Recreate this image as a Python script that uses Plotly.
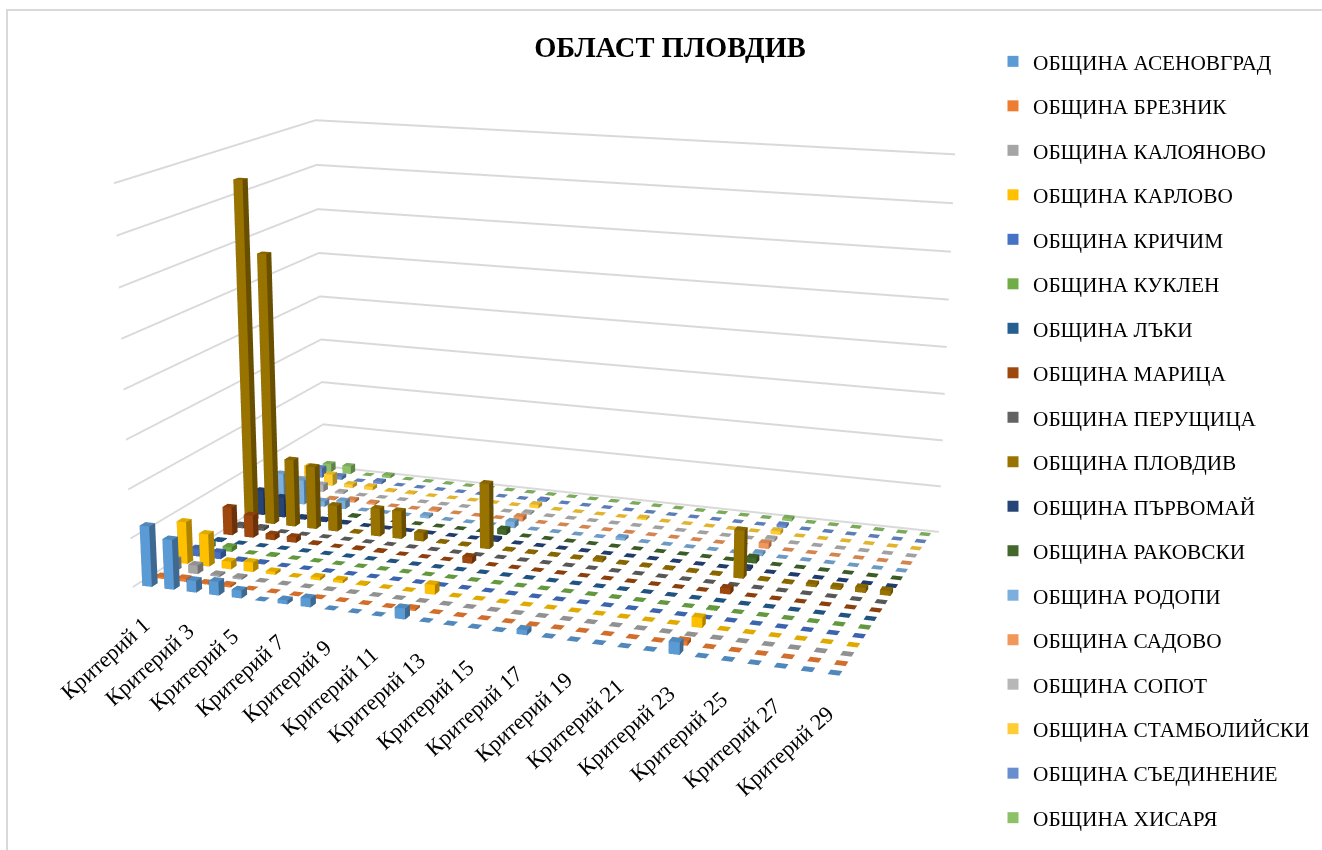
import plotly.graph_objects as go

criteria = [f"Критерий {n}" for n in range(1, 30)]
municipalities = ["ОБЩИНА АСЕНОВГРАД", "ОБЩИНА БРЕЗНИК", "ОБЩИНА КАЛОЯНОВО", "ОБЩИНА КАРЛОВО",
                  "ОБЩИНА КРИЧИМ", "ОБЩИНА КУКЛЕН", "ОБЩИНА ЛЪКИ", "ОБЩИНА МАРИЦА", "ОБЩИНА ПЕРУЩИЦА",
                  "ОБЩИНА ПЛОВДИВ", "ОБЩИНА ПЪРВОМАЙ", "ОБЩИНА РАКОВСКИ", "ОБЩИНА РОДОПИ", "ОБЩИНА САДОВО",
                  "ОБЩИНА СОПОТ", "ОБЩИНА СТАМБОЛИЙСКИ", "ОБЩИНА СЪЕДИНЕНИЕ", "ОБЩИНА ХИСАРЯ"]
colors = ["#5B9BD5", "#ED7D31", "#A5A5A5", "#FFC000", "#4472C4", "#70AD47", "#255E91", "#9E480E", "#636363",
          "#997300", "#264478", "#43682B", "#7CAFDD", "#F1975A", "#B7B7B7", "#FFCD33", "#698ED0", "#8CC168"]

asenovgrad =    [62, 51, 12, 14, 8, 0, 4, 9, 0, 0, 0, 11, 0, 0, 0, 0, 5, 0, 0, 0, 0, 0, 12, 0, 0, 0, 0, 0, 0]
breznik =       [2, 3, 1, 2, 0, 0, 0, 0, 0, 0, 0, 2, 0, 0, 0, 0, 0, 0, 0, 0, 0, 0, 4, 0, 0, 0, 0, 0, 0]
kaloyanovo =    [12, 9, 2, 2, 0, 0, 0, 0, 0, 0, 0, 0, 0, 0, 0, 0, 0, 0, 0, 0, 0, 0, 0, 0, 0, 0, 0, 0, 0]
karlovo =       [44, 34, 8, 10, 3, 0, 3, 3, 1, 0, 0, 10, 0, 0, 0, 0, 0, 0, 0, 0, 0, 0, 10, 0, 0, 0, 0, 0, 0]
krichim =       [8, 7, 1, 1, 0, 0, 0, 0, 0, 0, 0, 0, 0, 0, 0, 0, 0, 0, 0, 0, 0, 0, 0, 0, 0, 0, 0, 0, 0]
kuklen =        [5, 5, 0, 1, 0, 0, 0, 0, 0, 0, 0, 0, 0, 0, 0, 0, 0, 0, 0, 0, 0, 0, 1, 0, 0, 0, 0, 0, 0]
laki =          [1, 0, 0, 0, 0, 0, 0, 0, 0, 0, 0, 0, 0, 0, 0, 0, 0, 0, 0, 0, 0, 0, 0, 0, 0, 0, 0, 0, 0]
maritsa =       [30, 24, 6, 6, 1, 0, 1, 1, 0, 0, 0, 7, 0, 0, 0, 0, 0, 0, 0, 0, 0, 0, 6, 0, 0, 0, 0, 0, 0]
perushtitsa =   [3, 3, 0, 0, 0, 0, 0, 0, 0, 0, 0, 0, 0, 0, 0, 0, 0, 0, 0, 0, 0, 0, 0, 0, 0, 0, 0, 0, 0]
plovdiv =       [368, 292, 73, 68, 28, 1, 30, 30, 9, 1, 1, 70, 1, 1, 1, 1, 3, 1, 1, 1, 1, 1, 50, 1, 1, 3, 3, 5, 5]
parvomay =      [27, 22, 2, 2, 1, 0, 0, 0, 0, 0, 0, 3, 0, 0, 0, 0, 0, 0, 0, 0, 0, 0, 3, 0, 0, 0, 0, 0, 0]
rakovski =      [0, 0, 0, 0, 1, 0, 0, 0, 0, 0, 0, 6, 0, 0, 0, 0, 0, 0, 0, 0, 0, 0, 6, 0, 0, 0, 0, 0, 0]
rodopi =        [32, 27, 6, 9, 0, 0, 0, 3, 0, 0, 0, 7, 0, 0, 0, 0, 3, 0, 0, 0, 0, 0, 3, 0, 0, 0, 0, 0, 0]
sadovo =        [0, 0, 1, 3, 2, 0, 0, 2, 0, 0, 0, 5, 0, 0, 0, 0, 0, 0, 0, 0, 0, 0, 6, 0, 0, 0, 0, 0, 0]
sopot =         [12, 8, 2, 0, 0, 0, 0, 0, 0, 0, 0, 2, 0, 0, 0, 0, 0, 0, 0, 0, 0, 0, 3, 0, 0, 0, 0, 0, 0]
stamboliyski =  [20, 13, 4, 4, 1, 1, 0, 0, 0, 0, 0, 4, 0, 0, 0, 0, 2, 0, 0, 0, 0, 0, 4, 0, 0, 0, 0, 0, 0]
saedinenie =    [11, 4, 0, 3, 0, 0, 0, 0, 0, 0, 0, 2, 0, 0, 0, 0, 0, 0, 0, 0, 0, 0, 3, 0, 0, 0, 0, 0, 0]
hisarya =       [9, 9, 0, 3, 0, 0, 0, 0, 0, 0, 0, 0, 0, 0, 0, 0, 0, 0, 0, 0, 0, 0, 3, 0, 0, 0, 0, 0, 0]
series = [asenovgrad, breznik, kaloyanovo, karlovo, krichim, kuklen, laki, maritsa, perushtitsa, plovdiv,
          parvomay, rakovski, rodopi, sadovo, sopot, stamboliyski, saedinenie, hisarya]

# Page window and the figure: the scene needs a weak perspective, so it is taller than the window
WIN_W, WIN_H = 1322, 850
FIG_H, TOP = 1935, 600
SCENE_W = 1100
def py(y):  # window pixel row -> paper fraction
    return 1 - (y + TOP) / FIG_H
def px(x):
    return x / WIN_W

HALF_X, HALF_Y = 0.215, 0.24
def shade(c, f):
    r, g, b = int(c[1:3], 16), int(c[3:5], 16), int(c[5:7], 16)
    return f"rgb({round(r*f)},{round(g*f)},{round(b*f)})"

fig = go.Figure()
for s, (name, color, vals) in enumerate(zip(municipalities, colors, series), start=1):
    X, Y, Z, I, J, K, FC = [], [], [], [], [], [], []
    top, front, side = shade(color, 0.88), color, shade(color, 0.68)
    for c, v in enumerate(vals, start=1):
        n = len(X)
        for zz in (0, v):
            for xx, yy in ((c - HALF_X, s - HALF_Y), (c + HALF_X, s - HALF_Y),
                           (c + HALF_X, s + HALF_Y), (c - HALF_X, s + HALF_Y)):
                X.append(xx); Y.append(yy); Z.append(zz)
        quads = [((4, 5, 6, 7), top), ((0, 1, 5, 4), front), ((1, 2, 6, 5), side),
                 ((2, 3, 7, 6), side), ((3, 0, 4, 7), side)]
        for q, col in quads:
            I += [n + q[0], n + q[0]]; J += [n + q[1], n + q[2]]; K += [n + q[2], n + q[3]]
            FC += [col, col]
    fig.add_trace(go.Mesh3d(x=X, y=Y, z=Z, i=I, j=J, k=K, facecolor=FC, flatshading=True, name=name,
                            lighting=dict(ambient=1, diffuse=0, specular=0, fresnel=0, roughness=1),
                            legendgroup=name, showlegend=False, hoverinfo="name"))
    fig.add_trace(go.Scatter3d(x=[None], y=[None], z=[None], mode="markers", name=name, legendgroup=name,
                               marker=dict(symbol="square", size=11, color=color, line=dict(width=0)),
                               showlegend=True))

hidden = dict(showgrid=False, zeroline=False, showline=False, showticklabels=False, ticks="",
              showbackground=False, showspikes=False, title="")
labels = [dict(x=c, y=1, z=0, text=t, textangle=-42, showarrow=False, xanchor="right", yanchor="top",
               xshift=7, yshift=-25, font=dict(family="Liberation Serif", size=22.5, color="#000000"))
          for c, t in enumerate(criteria, start=1) if c % 2 == 1]

fig.update_layout(
    width=WIN_W, height=FIG_H, margin=dict(l=0, r=0, t=0, b=0, autoexpand=False),
    paper_bgcolor="white", plot_bgcolor="white",
    title=dict(text="<b>ОБЛАСТ ПЛОВДИВ</b>", x=px(670), y=py(47.5), xanchor="center", yanchor="middle",
               font=dict(family="Liberation Serif", size=28.5, color="#000000")),
    legend=dict(x=px(993), y=py(41), xanchor="left", yanchor="top", tracegroupgap=13.8, bgcolor="rgba(0,0,0,0)",
                font=dict(family="Liberation Serif", size=21.3, color="#000000"), itemsizing="trace"),
    shapes=[dict(type="rect", xref="paper", yref="paper", x0=px(7), x1=px(1330), y0=py(10), y1=py(870),
                 line=dict(color="#D9D9D9", width=2), layer="above")],
    scene=dict(
        domain=dict(x=[0, SCENE_W / WIN_W], y=[0, 1]),
        bgcolor="rgba(0,0,0,0)",
        xaxis=dict(range=[0.5, 29.5], **hidden),
        yaxis=dict(range=[0.5, 18.5], **hidden),
        zaxis=dict(range=[0, 400], dtick=50, showgrid=True, gridcolor="#D9D9D9", gridwidth=4, zeroline=False,
                   showline=False, showticklabels=False, ticks="", showbackground=False, showspikes=False, title=""),
        aspectmode="manual", aspectratio=dict(x=1.7763, y=1.097, z=1.0),
        camera=dict(eye=dict(x=1.9067, y=-5.2939, z=1.4256), center=dict(x=0, y=0, z=0), up=dict(x=0, y=0, z=1)),
        annotations=labels,
    ),
)

post = (f"document.documentElement.style.overflow='hidden';document.documentElement.style.height='{WIN_H}px';"
        f"document.body.style.overflow='hidden';document.body.style.height='{WIN_H}px';document.body.style.margin='0';"
        f"document.getElementById('{{plot_id}}').style.marginTop='-{TOP}px';")
fig.write_html("out.html", post_script=post, config=dict(displayModeBar=False))
